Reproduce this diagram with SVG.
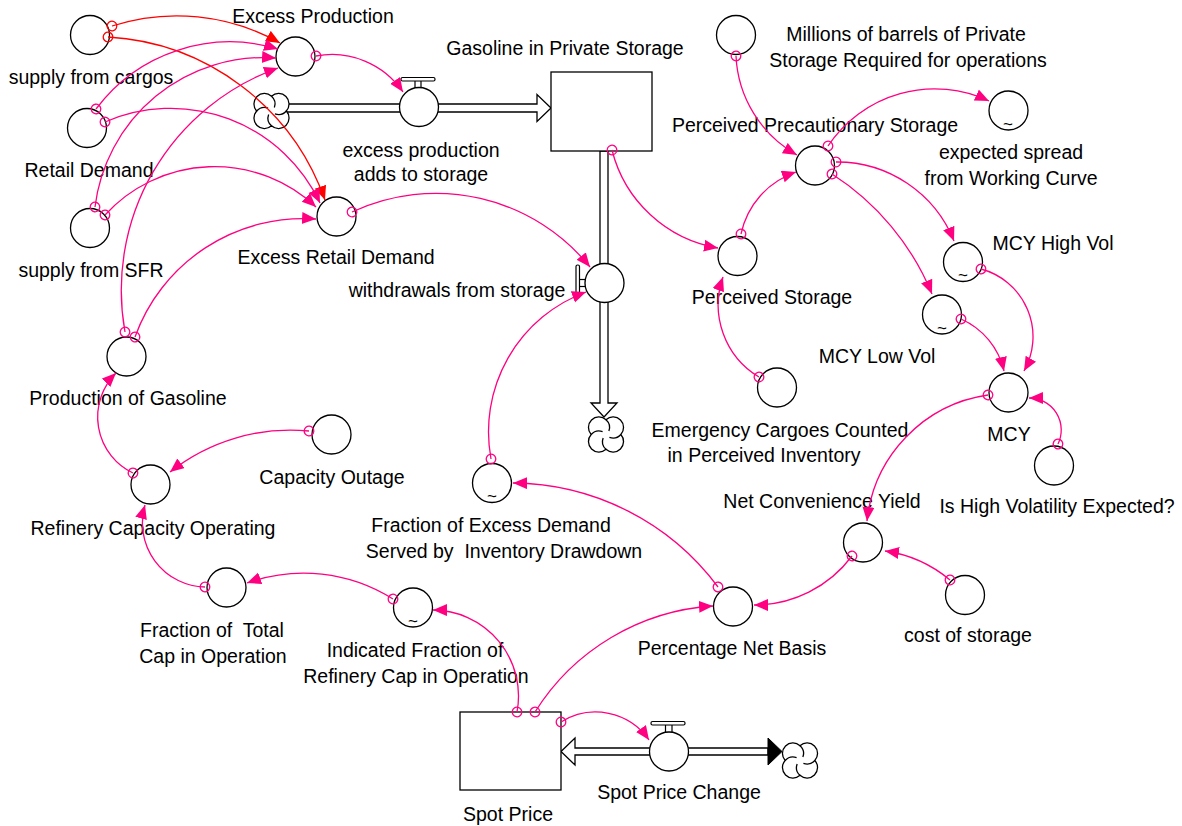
<svg xmlns="http://www.w3.org/2000/svg" width="1182" height="826" viewBox="0 0 1182 826">
<style>
.n circle, .n rect.box {fill:#fff; stroke:#000; stroke-width:1.3}
.h {fill:#fff; stroke:#000; stroke-width:1.2}
text {font-family:"Liberation Sans", Arial, sans-serif; font-size:19.5px; fill:#000; text-anchor:middle}
text.t {font-size:17px}
.pre {white-space:pre}
.c {fill:none; stroke:#FF0080; stroke-width:1.3; marker-start:url(#tail); marker-end:url(#head)}
.r {fill:none; stroke:#FF0000; stroke-width:1.3; marker-start:url(#tailr); marker-end:url(#headr)}
.pipe {fill:#fff; stroke:#000; stroke-width:1.3}
.cl {fill:#fff; stroke:#000; stroke-width:1.3}
.ci {fill:none; stroke:#000; stroke-width:1.3}
</style>
<defs>
<marker id="head" markerUnits="userSpaceOnUse" markerWidth="16" markerHeight="14" refX="14" refY="6" orient="auto"><path d="M0,0 L14,6 L0,12 z" fill="#FF0080"/></marker>
<marker id="tail" markerUnits="userSpaceOnUse" markerWidth="14" markerHeight="14" refX="7" refY="7" orient="auto"><circle cx="7" cy="7" r="4.8" fill="none" stroke="#FF0080" stroke-width="1.3"/></marker>
<marker id="headr" markerUnits="userSpaceOnUse" markerWidth="16" markerHeight="14" refX="14" refY="6" orient="auto"><path d="M0,0 L14,6 L0,12 z" fill="#FF0000"/></marker>
<marker id="tailr" markerUnits="userSpaceOnUse" markerWidth="14" markerHeight="14" refX="7" refY="7" orient="auto"><circle cx="7" cy="7" r="4.8" fill="none" stroke="#FF0000" stroke-width="1.3"/></marker>
<g id="cloud">
<path class="cl" d="M0,-14.83 A10.5,10.5 0 0 1 14.83,0 A10.5,10.5 0 0 1 0,14.83 A10.5,10.5 0 0 1 -14.83,0 A10.5,10.5 0 0 1 0,-14.83 Z"/>
<path class="ci" d="M0,-14.83 A10.5,10.5 0 0 1 2.87,-3.41 M14.83,0 A10.5,10.5 0 0 1 3.41,2.87 M0,14.83 A10.5,10.5 0 0 1 -2.87,3.41 M-14.83,0 A10.5,10.5 0 0 1 -3.41,-2.87"/>
</g>
</defs>
<rect width="1182" height="826" fill="#fff"/>

<!-- flows / pipes -->
<g id="flows">
<path class="pipe" d="M285,104 L537,104 L537,94.5 L551,108 L537,121.5 L537,112 L285,112 Z"/>
<path class="pipe" d="M600,151 L600,403 L591,403 L604,417 L617,403 L608,403 L608,151 Z"/>
<path class="pipe" d="M561,751.5 L575,738 L575,748 L768,748 L768,755 L575,755 L575,765 Z"/>
<path d="M768,738 L782,751.5 L768,765 Z" fill="#000" stroke="#000" stroke-width="1"/>
<use href="#cloud" transform="translate(271.5,111)"/>
<use href="#cloud" transform="translate(606,434.5)"/>
<use href="#cloud" transform="translate(800,760.5)"/>
</g>

<!-- stocks -->
<g id="gasoline_in_private_storage" class="n">
<rect class="box" x="551" y="72" width="101" height="79"/>
<text x="565" y="55">Gasoline in Private Storage</text>
</g>
<g id="spot_price" class="n">
<rect class="box" x="460" y="712" width="101" height="78"/>
<text x="508" y="821">Spot Price</text>
</g>

<!-- valves -->
<g id="excess_production_adds_to_storage" class="n">
<rect class="h" x="415" y="80.5" width="6" height="8"/>
<rect class="h" x="401" y="77.5" width="34" height="3.5" rx="1.5"/>
<circle cx="419" cy="107" r="19.5"/>
<text x="421" y="157">excess production</text>
<text x="421" y="181">adds to storage</text>
</g>
<g id="withdrawals_from_storage" class="n">
<rect class="h" x="579" y="279.5" width="6.5" height="7"/>
<rect class="h" x="576" y="265" width="3.5" height="33" rx="1.5"/>
<circle cx="604.5" cy="283" r="19.5"/>
<text x="457" y="297">withdrawals from storage</text>
</g>
<g id="spot_price_change" class="n">
<rect class="h" x="665.5" y="724.5" width="6.5" height="8"/>
<rect class="h" x="651" y="721.5" width="34" height="3.5" rx="1.5"/>
<circle cx="669" cy="751.5" r="19.5"/>
<text x="679" y="799">Spot Price Change</text>
</g>

<!-- auxiliaries -->
<g id="supply_from_cargos" class="n"><circle cx="90" cy="35" r="19.5"/><text x="91" y="84">supply from cargos</text></g>
<g id="excess_production" class="n"><circle cx="295.5" cy="56.5" r="19.5"/><text x="313" y="23">Excess Production</text></g>
<g id="retail_demand" class="n"><circle cx="87" cy="128" r="19.5"/><text x="89" y="177">Retail Demand</text></g>
<g id="supply_from_sfr" class="n"><circle cx="90" cy="228" r="19.5"/><text x="91" y="277">supply from SFR</text></g>
<g id="excess_retail_demand" class="n"><circle cx="336.5" cy="216.5" r="19.5"/><text x="336" y="264">Excess Retail Demand</text></g>
<g id="production_of_gasoline" class="n"><circle cx="126.5" cy="356.5" r="19.5"/><text x="128" y="405">Production of Gasoline</text></g>
<g id="refinery_capacity_operating" class="n"><circle cx="150.5" cy="484.5" r="19.5"/><text x="153" y="535">Refinery Capacity Operating</text></g>
<g id="capacity_outage" class="n"><circle cx="331.5" cy="434.5" r="19.5"/><text x="332" y="484">Capacity Outage</text></g>
<g id="fraction_of_total_cap" class="n"><circle cx="226.5" cy="587.5" r="19.5"/><text class="pre" x="212" y="637">Fraction of  Total</text><text x="213" y="663">Cap in Operation</text></g>
<g id="indicated_fraction" class="n"><circle cx="413" cy="607.5" r="19.5"/><text class="t" x="413" y="627">~</text><text x="415" y="657">Indicated Fraction of</text><text x="416" y="683">Refinery Cap in Operation</text></g>
<g id="fraction_of_excess_demand" class="n"><circle cx="492" cy="483" r="19.5"/><text class="t" x="492" y="502">~</text><text x="491" y="532">Fraction of Excess Demand</text><text class="pre" x="504" y="558">Served by  Inventory Drawdown</text></g>
<g id="percentage_net_basis" class="n"><circle cx="733" cy="606.5" r="19.5"/><text x="732" y="655">Percentage Net Basis</text></g>
<g id="net_convenience_yield" class="n"><circle cx="863" cy="542.5" r="19.5"/><text x="822" y="508">Net Convenience Yield</text></g>
<g id="cost_of_storage" class="n"><circle cx="965" cy="595" r="19.5"/><text x="968" y="642">cost of storage</text></g>
<g id="mcy" class="n"><circle cx="1008.5" cy="392.5" r="19.5"/><text x="1009" y="441">MCY</text></g>
<g id="is_high_volatility_expected" class="n"><circle cx="1054" cy="465.5" r="19.5"/><text x="1057" y="513">Is High Volatility Expected?</text></g>
<g id="mcy_low_vol" class="n"><circle cx="942" cy="314.5" r="19.5"/><text class="t" x="942" y="334">~</text><text x="877" y="363">MCY Low Vol</text></g>
<g id="mcy_high_vol" class="n"><circle cx="963" cy="262" r="19.5"/><text class="t" x="963" y="281">~</text><text x="1053" y="250">MCY High Vol</text></g>
<g id="expected_spread" class="n"><circle cx="1008.5" cy="110.5" r="19.5"/><text class="t" x="1008" y="130">~</text><text x="1011" y="159">expected spread</text><text x="1011" y="185">from Working Curve</text></g>
<g id="millions_of_barrels" class="n"><circle cx="736" cy="35" r="19.5"/><text x="906" y="41">Millions of barrels of Private</text><text x="908" y="67">Storage Required for operations</text></g>
<g id="perceived_precautionary_storage" class="n"><circle cx="815" cy="165.5" r="19.5"/><text x="815" y="132">Perceived Precautionary Storage</text></g>
<g id="perceived_storage" class="n"><circle cx="737.5" cy="256" r="19.5"/><text x="772" y="304">Perceived Storage</text></g>
<g id="emergency_cargoes" class="n"><circle cx="777" cy="387.5" r="19.5"/><text x="780" y="437">Emergency Cargoes Counted</text><text x="764" y="462">in Perceived Inventory</text></g>

<!-- connectors -->
<g id="connectors">
<path class="r" d="M112,26 A210,210 0 0 1 280,43"/>
<path class="r" d="M108,37 A245,245 0 0 1 325,200"/>
<path class="c" d="M96,109 A167,167 0 0 1 278,49"/>
<path class="c" d="M105,122 A165,165 0 0 1 320,203"/>
<path class="c" d="M95,207 A170,170 0 0 1 276,58"/>
<path class="c" d="M105,215 A148,148 0 0 1 316,207"/>
<path class="c" d="M125,332 A236,236 0 0 1 278,68"/>
<path class="c" d="M135,337 A179,179 0 0 1 316,219"/>
<path class="c" d="M316,56 A86,86 0 0 1 403,92"/>
<path class="c" d="M352,212 A198,198 0 0 1 590,267"/>
<path class="c" d="M612,150 A132,132 0 0 0 718,248"/>
<path class="c" d="M741,234 A84,84 0 0 1 796,172"/>
<path class="c" d="M759,377 A84,84 0 0 1 723,277"/>
<path class="c" d="M736,56 A120,120 0 0 0 797,155"/>
<path class="c" d="M828,146 A128,128 0 0 1 989,101"/>
<path class="c" d="M836,162 A126,126 0 0 1 954,241"/>
<path class="c" d="M832,174 A260,260 0 0 1 932,294"/>
<path class="c" d="M981,269 A70,70 0 0 1 1024,371"/>
<path class="c" d="M961,319 A75,75 0 0 1 1004,371"/>
<path class="c" d="M1058,444 A32,32 0 0 0 1029,398"/>
<path class="c" d="M988,395 A142,142 0 0 0 867,521"/>
<path class="c" d="M950,580 A130,130 0 0 0 885,551"/>
<path class="c" d="M852,556 A122,122 0 0 1 754,605"/>
<path class="c" d="M718,587 A258,258 0 0 0 513,483"/>
<path class="c" d="M491,459 A149,149 0 0 1 586,292"/>
<path class="c" d="M535,712 A227,227 0 0 1 713,606"/>
<path class="c" d="M517,712 A86,86 0 0 0 433,610"/>
<path class="c" d="M561,722 A65,65 0 0 1 649,740"/>
<path class="c" d="M393,599 A167,167 0 0 0 247,583"/>
<path class="c" d="M205,587 A64,64 0 0 1 145,505"/>
<path class="c" d="M309,431 A194,194 0 0 0 170,472"/>
<path class="c" d="M133,473 A62,62 0 0 1 116,373"/>
</g>
</svg>
